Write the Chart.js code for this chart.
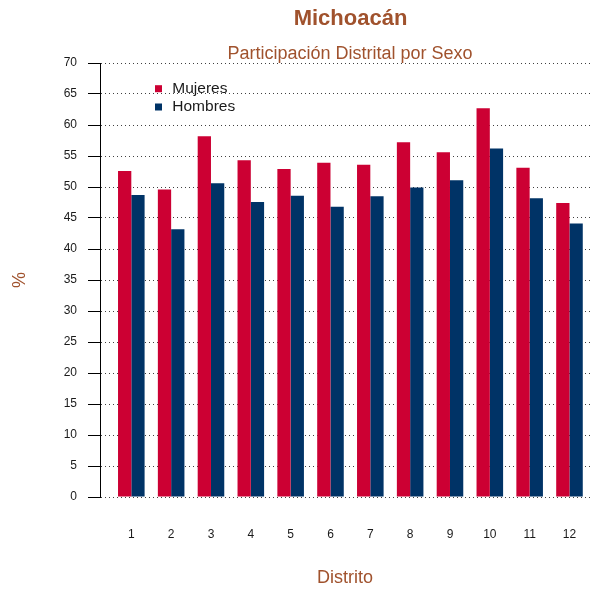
<!DOCTYPE html>
<html>
<head>
<meta charset="utf-8">
<script src="https://cdn.jsdelivr.net/npm/chart.js@4"></script>
<style>
  html, body { margin: 0; padding: 0; background: #fff; }
  #wrap { width: 590px; height: 589px; }
</style>
</head>
<body>
<div id="wrap"><canvas id="chart" width="590" height="589"></canvas></div>
<script>
// Datos
const distritos = ['1', '2', '3', '4', '5', '6', '7', '8', '9', '10', '11', '12'];
const mujeres   = [52.6, 49.6, 58.2, 54.3, 52.9, 53.9, 53.6, 57.2, 55.6, 62.7, 53.1, 47.4];
const hombres   = [48.7, 43.2, 50.6, 47.6, 48.6, 46.8, 48.5, 49.9, 51.1, 56.2, 48.2, 44.1];
const yTicks    = [0, 5, 10, 15, 20, 25, 30, 35, 40, 45, 50, 55, 60, 65, 70];

const TITLE     = 'Michoacán';
const SUBTITLE  = 'Participación Distrital por Sexo';
const FONT      = '"Liberation Sans", Arial, Helvetica, sans-serif';
const SIENNA    = '#A0522D';
const TEXT      = '#1a1a1a';

const toPoints = arr => arr.map((v, i) => ({ x: i + 1, y: v }));

// Títulos centrados sobre la región del gráfico
const titlesPlugin = {
    id: 'titles',
    afterDraw(chart) {
        const ctx = chart.ctx;
        ctx.save();
        ctx.fillStyle = SIENNA;
        ctx.textAlign = 'center';
        ctx.textBaseline = 'alphabetic';
        ctx.font = `bold 22px ${FONT}`;
        ctx.fillText(TITLE, 350.5, 25);
        ctx.font = `18px ${FONT}`;
        ctx.fillText(SUBTITLE, 350, 59.3);
        ctx.restore();
    },
};

// Leyenda dentro del área del gráfico
const innerLegend = {
    id: 'innerLegend',
    afterDraw(chart) {
        const ctx = chart.ctx;
        ctx.save();
        ctx.font = `15.5px ${FONT}`;
        ctx.textBaseline = 'middle';
        ctx.textAlign = 'left';
        chart.data.datasets.forEach((ds, i) => {
            const y = 88.7 + i * 18.3;
            ctx.fillStyle = ds.backgroundColor;
            ctx.fillRect(155, y - 3.5, 7, 7);
            ctx.fillStyle = TEXT;
            ctx.fillText(ds.label, 172.3, y);
        });
        ctx.restore();
    },
};

new Chart(document.getElementById('chart'), {
    type: 'bar',
    data: {
        datasets: [
            {
                label: 'Mujeres',
                data: toPoints(mujeres),
                backgroundColor: '#CC0033',
                borderWidth: 0,
                categoryPercentage: 0.667,
                barPercentage: 1,
            },
            {
                label: 'Hombres',
                data: toPoints(hombres),
                backgroundColor: '#003366',
                borderWidth: 0,
                categoryPercentage: 0.667,
                barPercentage: 1,
            },
        ],
    },
    options: {
        responsive: false,
        animation: false,
        layout: { padding: { top: 63, left: 0, right: 0, bottom: 0 } },
        plugins: {
            legend: { display: false },
            tooltip: { enabled: false },
        },
        scales: {
            x: {
                type: 'linear',
                offset: false,
                min: 0.214,
                max: 12.515,
                // marcas ocultas: solo sirven para bajar las etiquetas
                grid: { display: false, drawTicks: true, tickLength: 30, offset: false },
                border: { display: false },
                afterBuildTicks: scale => {
                    scale.ticks = distritos.map((_, i) => ({ value: i + 1 }));
                },
                afterFit: scale => {
                    scale.height = 92;
                    scale.paddingLeft = 0;
                    scale.paddingRight = 0;
                },
                ticks: {
                    autoSkip: false,
                    maxRotation: 0,
                    padding: 0,
                    color: TEXT,
                    font: { family: FONT, size: 12 },
                    callback: (v, i) => distritos[i],
                },
                title: {
                    display: true,
                    text: 'Distrito',
                    color: SIENNA,
                    font: { family: FONT, size: 18 },
                    padding: { top: 0, bottom: 0 },
                },
            },
            y: {
                min: 0,
                max: 70,
                afterBuildTicks: scale => {
                    scale.ticks = yTicks.map(v => ({ value: v }));
                },
                afterFit: scale => { scale.width = 100; },
                grid: {
                    color: 'rgba(0,0,0,0.75)',
                    tickColor: '#000',
                    tickLength: 12,
                    drawTicks: true,
                },
                border: { display: true, color: '#000', width: 1, dash: [1, 3] },
                ticks: {
                    padding: 11,
                    color: TEXT,
                    font: { family: FONT, size: 12 },
                },
                title: {
                    display: true,
                    text: '%',
                    color: SIENNA,
                    font: { family: FONT, size: 18 },
                    padding: { top: 9.5, bottom: 0 },
                },
            },
        },
    },
    plugins: [titlesPlugin, innerLegend],
});
</script>
</body>
</html>
